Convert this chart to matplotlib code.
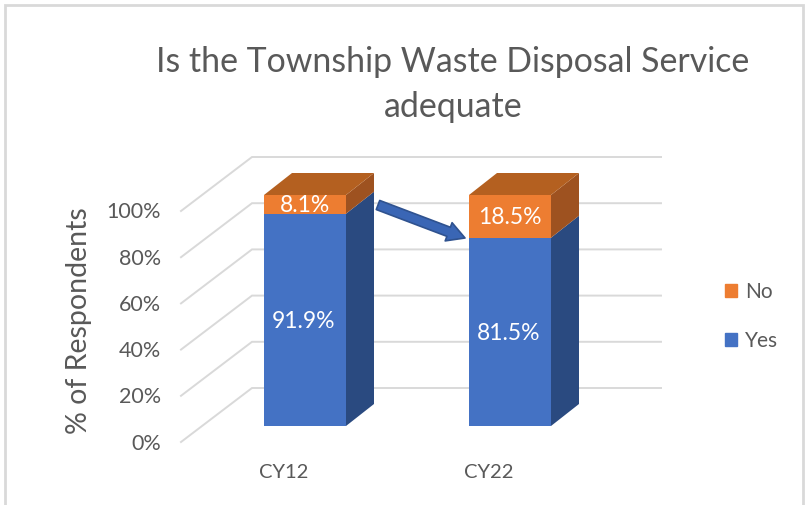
#Stacked pseudo-3D column chart of the waste disposal survey
import matplotlib
matplotlib.use("Agg")
import matplotlib.pyplot as plt
from matplotlib.patches import Patch, Polygon, Rectangle

plt.rcParams['font.family'] = ['Lato', 'DejaVu Sans']

#Chart data
categories = ["CY12", "CY22"]
yes_values = [91.9, 81.5]
no_values = [8.1, 18.5]
y_ticks = [0, 20, 40, 60, 80, 100]

#Colours
blue = "#4472C4"
blue_side = "#2A4A80"
orange = "#ED7D31"
orange_side = "#9E5220"
orange_top = "#B46020"
grid = "#D9D9D9"
text_grey = "#595959"

#Scales: one category is 205 px wide, 100% is 231 px high
fig = plt.figure(figsize=(8.05, 5.05), dpi=100)
ax = fig.add_axes([0, 0, 1, 1])
px_x = 205.0
px_y = 2.31
ax.set_xlim(-305 / px_x, 500 / px_x)
ax.set_ylim(-79 / px_y, 426 / px_y)
ax.axis("off")

#Depth offsets of the bars and of the floor, px converted to data units
bar_dx, bar_dy = 28 / px_x, 22 / px_y
floor_dx, floor_dy = 71 / px_x, 54 / px_y
front_x, front_dy = -124 / px_x, -16 / px_y
right_x = 356 / px_x
width = 82 / px_x
#Small downward nudge for text, Lato sits a little high
nudge = 1.5 / px_y


def block(x, bottom, height, front, side, top=None):
    #Front face through the bar call, then side and top faces
    ax.bar(x, height, width, bottom=bottom, color=front, zorder=3)
    r = x + width / 2
    l = x - width / 2
    t = bottom + height
    ax.add_patch(Polygon([(r, bottom), (r + bar_dx, bottom + bar_dy), (r + bar_dx, t + bar_dy), (r, t)],
                         facecolor=side, edgecolor="none", zorder=3))
    if top:
        ax.add_patch(Polygon([(l, t), (l + bar_dx, t + bar_dy), (r + bar_dx, t + bar_dy), (r, t)],
                             facecolor=top, edgecolor="none", zorder=3))


#Gridlines on the floor side and back wall
for v in y_ticks:
    x0 = front_x
    y0 = v + front_dy
    ax.plot([x0, x0 + floor_dx, right_x], [y0, y0 + floor_dy, y0 + floor_dy],
            color=grid, lw=1.4, zorder=1, solid_joinstyle="miter")
    ax.text(-144 / px_x, y0 - nudge, str(v) + "%", ha="right", va="center", fontsize=15.5, color=text_grey)

#Bars and data labels
for i in range(len(categories)):
    block(i, 0, yes_values[i], blue, blue_side)
    block(i, yes_values[i], no_values[i], orange, orange_side, orange_top)
    ax.text(i - 0.005, yes_values[i] / 2 - nudge, "%.1f%%" % yes_values[i], ha="center", va="center",
            fontsize=16.5, color="white", zorder=4)
    ax.text(i, yes_values[i] + no_values[i] / 2 - nudge, "%.1f%%" % no_values[i], ha="center", va="center",
            fontsize=16.5, color="white", zorder=4)
    ax.text(i - 21 / px_x, -47 / px_y, categories[i], ha="center", va="center", fontsize=14.5, color=text_grey)

#Block arrow between the two columns
ax.annotate("", xy=(160 / px_x, (426 - 238) / px_y), xytext=(73 / px_x, (426 - 205) / px_y),
            arrowprops=dict(arrowstyle="simple,head_length=0.9,head_width=1.0,tail_width=0.5",
                            facecolor="#3A66B5", edgecolor="#2F528F", lw=1.2,
                            shrinkA=0, shrinkB=0, mutation_scale=14), zorder=5)

#Titles
ax.text(148 / px_x, (426 - 62) / px_y, "Is the Township Waste Disposal Service",
        ha="center", va="center", fontsize=24.4, color=text_grey)
ax.text(148 / px_x, (426 - 107) / px_y, "adequate",
        ha="center", va="center", fontsize=24.4, color=text_grey)
ax.text(-226 / px_x, (426 - 321) / px_y, "% of Respondents", rotation=90, ha="center", va="center",
        fontsize=20.5, color=text_grey)

#Legend
handles = [Patch(color=orange, label="No"), Patch(color=blue, label="Yes")]
ax.legend(handles=handles, loc="center left", bbox_to_anchor=(0.9006, 0.374), frameon=False,
          fontsize=15, labelcolor=text_grey, handlelength=0.58, handleheight=0.58,
          handletextpad=0.4, labelspacing=1.4, borderpad=0, borderaxespad=0)

#Outer border of the chart area
fig.add_artist(Rectangle((5 / 805, -0.02), 798 / 805, 1.02 - 5 / 505, transform=fig.transFigure,
                         fill=False, edgecolor=grid, lw=2))

fig.savefig("out.png", dpi=100)
